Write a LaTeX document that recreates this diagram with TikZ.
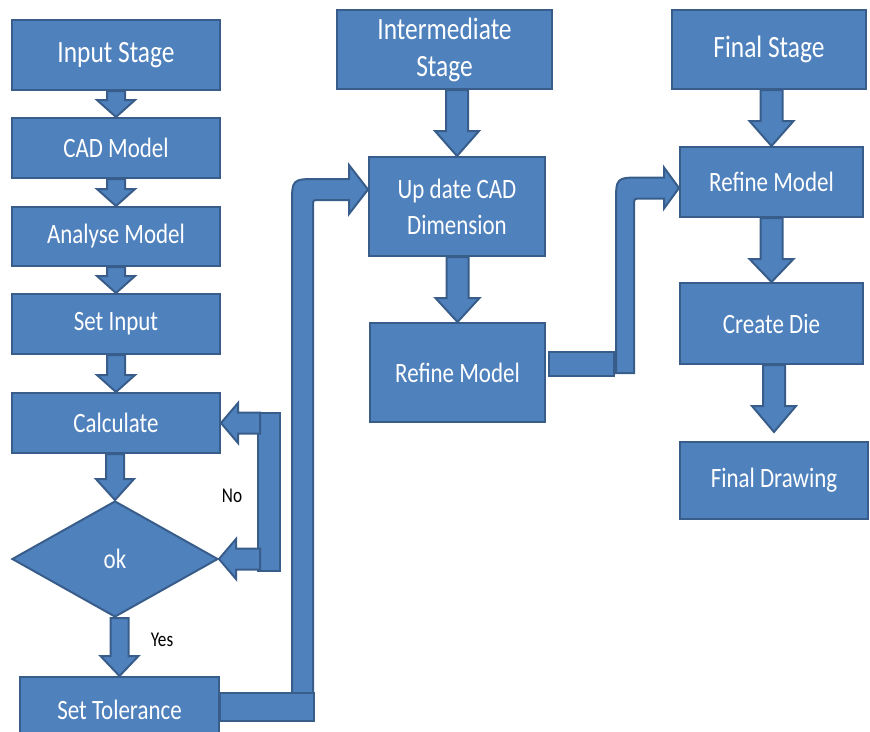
\documentclass[tikz,border=0pt]{standalone}
\usepackage{fontspec}
\setmainfont{Carlito}[FakeStretch=0.82]
\usetikzlibrary{shapes.geometric,calc}
\definecolor{boxblue}{HTML}{4F81BD}
\definecolor{boxedge}{HTML}{385D8A}
% block arrow pointing down: from node, tip, shaft half width, head half width, head length
\newcommand{\flowdown}[5]{%
\draw[blockarrow] ($(#1.south -| #2)+(-#3,0)$) -- ($(#2)+(-#3,-#5)$) -- ($(#2)+(-#4,-#5)$) -- (#2)
  -- ($(#2)+(#4,-#5)$) -- ($(#2)+(#3,-#5)$) -- ($(#1.south -| #2)+(#3,0)$) -- cycle;}
% block arrow pointing left: tip, length, shaft half width, head half width, head length
\newcommand{\flowleft}[5]{%
\draw[blockarrow] (#1) -- ($(#1)+(#5,-#4)$) -- ($(#1)+(#5,-#3)$) -- ($(#1)+(#2,-#3)$)
  -- ($(#1)+(#2,#3)$) -- ($(#1)+(#5,#3)$) -- ($(#1)+(#5,#4)$) -- cycle;}
\begin{document}
\begin{tikzpicture}[x=1pt,y=-1pt,
  flowbox/.style={draw=boxedge,fill=boxblue,line width=2pt,text=white,align=center,inner sep=0pt,
    font=\fontsize{28}{36}\selectfont},
  stagebox/.style={flowbox,font=\fontsize{31}{37}\selectfont},
  blockarrow/.style={draw=boxedge,fill=boxblue,line width=2pt},
  notelabel/.style={text=black,font=\fontsize{21}{24}\selectfont}]
\useasboundingbox (0,0) rectangle (870,731);
\clip (0,0) rectangle (870,731);

% input stage column
\node[stagebox,minimum width=208,minimum height=70] (input) at (116,55) {Input Stage};
\node[flowbox,minimum width=208,minimum height=60] (cad) at (116,148) {CAD Model};
\node[flowbox,minimum width=208,minimum height=59] (analyse) at (116,236.5) {Analyse Model};
\node[flowbox,minimum width=208,minimum height=60] (setin) at (116,324) {Set Input};
\node[flowbox,minimum width=208,minimum height=60] (calc) at (116,423) {Calculate};
\node[flowbox,shape=diamond,minimum width=206,minimum height=116] (ok) at (115,559) {ok};
\node[flowbox,minimum width=199,minimum height=65] (settol) at (119.5,709.5) {Set Tolerance};

\flowdown{input}{cad.north}{9}{19}{17}
\flowdown{cad}{analyse.north}{9}{19}{17}
\flowdown{analyse}{setin.north}{9}{19}{17}
\flowdown{setin}{calc.north}{9}{19}{17}
\flowdown{calc}{ok.north}{9}{19}{21}
\flowdown{ok}{settol.north}{9}{19}{20}

% loop back
\draw[blockarrow] ($(calc.east)+(37,-10.5)$) rectangle ($(calc.east |- ok.east)+(59,11.5)$);
\flowleft{calc.east}{39}{10.5}{20}{17}
\flowleft{ok.east}{41}{10.5}{20}{17}
\node[notelabel] (nolabel) at (232,496) {No};
\node[notelabel] (yeslabel) at (162,640) {Yes};

% intermediate stage column
\node[stagebox,minimum width=215,minimum height=79] (inter) at (444.5,49.5) {Intermediate\\Stage};
\node[flowbox,minimum width=176,minimum height=99] (update) at (457,206.5) {Up date CAD\\Dimension};
\node[flowbox,minimum width=175,minimum height=99] (refmid) at (457.5,372.5) {Refine Model};

\flowdown{inter}{update.north}{11}{22}{25}
\flowdown{update}{refmid.north}{11}{22}{24}

% final stage column
\node[stagebox,minimum width=194,minimum height=79] (final) at (769,49.5) {Final Stage};
\node[flowbox,minimum width=183,minimum height=70] (refright) at (771.5,182) {Refine Model};
\node[flowbox,minimum width=183,minimum height=81] (die) at (771.5,323.5) {Create Die};
\node[flowbox,minimum width=188,minimum height=77] (drawing) at (774,480.5) {Final Drawing};
\coordinate (drawtip) at ($(drawing.north)+(0,-9)$);

\flowdown{final}{refright.north}{11}{22}{25}
\flowdown{refright}{die.north}{11}{22}{23}
\flowdown{die}{drawtip}{11}{22}{26}

% set tolerance -> up date CAD
\coordinate (tolbend) at ($(settol.east)+(72,-9)$);
\coordinate (updtip) at ($(update.west)+(0,-17)$);
\draw[blockarrow] (tolbend) -- ($(tolbend |- updtip)+(0,15)$)
  .. controls ($(tolbend |- updtip)+(0,-10.5)$) .. ($(tolbend |- updtip)+(26,-10.5)$)
  -- ($(updtip)+(-19,-10.5)$) -- ($(updtip)+(-19,-24.5)$) -- (updtip)
  -- ($(updtip)+(-19,24.5)$) -- ($(updtip)+(-19,10.5)$)
  -- ($(tolbend |- updtip)+(27,10.5)$)
  .. controls ($(tolbend |- updtip)+(21,10.5)$) .. ($(tolbend |- updtip)+(21,16.5)$)
  -- ($(tolbend)+(21,0)$) -- cycle;
\draw[blockarrow] ($(settol.east)+(0,-16.5)$) rectangle ($(settol.east)+(94,11.5)$);

% refine model -> refine model
\coordinate (refbend) at ($(refmid.east)+(70,0.5)$);
\coordinate (reftip) at ($(refright.west)+(0,6)$);
\draw[blockarrow] ($(refmid.east)+(3,-20.5)$) rectangle ($(refmid.east)+(68,3.5)$);
\draw[blockarrow] (refbend) -- ($(refbend |- reftip)+(0,15)$)
  .. controls ($(refbend |- reftip)+(0,-10.5)$) .. ($(refbend |- reftip)+(26,-10.5)$)
  -- ($(reftip)+(-15,-10.5)$) -- ($(reftip)+(-15,-20.5)$) -- (reftip)
  -- ($(reftip)+(-15,20.5)$) -- ($(reftip)+(-15,10.5)$)
  -- ($(refbend |- reftip)+(25,10.5)$)
  .. controls ($(refbend |- reftip)+(18,10.5)$) .. ($(refbend |- reftip)+(18,17.5)$)
  -- ($(refbend)+(18,0)$) -- cycle;
\end{tikzpicture}
\end{document}
